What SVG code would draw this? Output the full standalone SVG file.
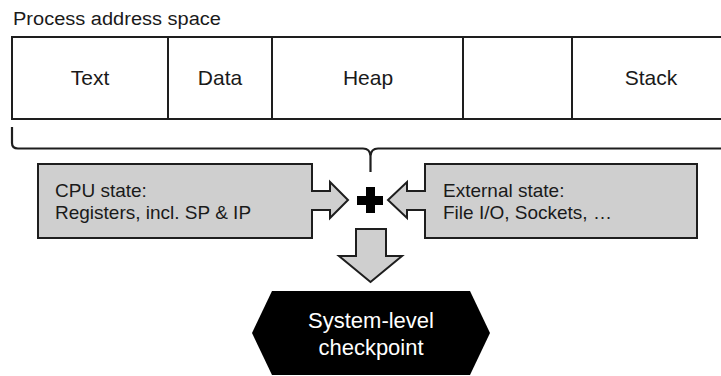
<svg xmlns="http://www.w3.org/2000/svg" width="721" height="376" viewBox="0 0 721 376">
<style>
.seg{fill:#fff;stroke:#1e1e1e;stroke-width:2}
.box{fill:#cfcfcf;stroke:#1e1e1e;stroke-width:2;stroke-linejoin:miter}
.lbl{font-family:"Liberation Sans",Arial,sans-serif;fill:#1a1a1a}
.big{font-size:21px;text-anchor:middle}
.mid{font-size:19px}
.hex{font-family:"Liberation Sans",Arial,sans-serif;font-size:22px;fill:#fff;text-anchor:middle}
.con{fill:none;stroke:#1e1e1e;stroke-width:2.2}
</style>
<rect width="721" height="376" fill="#fff"/>
<g id="title"><text class="lbl" x="13" y="25" font-size="18" textLength="208" lengthAdjust="spacingAndGlyphs">Process address space</text></g>
<g id="address-space">
<rect class="seg" x="12" y="37" width="720" height="82"/>
<line class="seg" x1="168" y1="37" x2="168" y2="119"/>
<line class="seg" x1="272" y1="37" x2="272" y2="119"/>
<line class="seg" x1="463" y1="37" x2="463" y2="119"/>
<line class="seg" x1="572" y1="37" x2="572" y2="119"/>
<text class="lbl big" x="90" y="85">Text</text>
<text class="lbl big" x="220" y="85">Data</text>
<text class="lbl big" x="368" y="85">Heap</text>
<text class="lbl big" x="651" y="85">Stack</text>
</g>
<g id="cpu-state">
<path class="box" d="M38,164 H312 V191 H330 V182 L348,200 L330,218 V210 H312 V238 H38 Z"/>
<text class="lbl mid" x="55" y="197">CPU state:</text>
<text class="lbl mid" x="55" y="219">Registers, incl. SP &amp; IP</text>
</g>
<g id="external-state">
<path class="box" d="M425,164 H697 V238 H425 V210 H407 V218 L388,200 L407,182 V191 H425 Z"/>
<text class="lbl mid" x="443" y="197">External state:</text>
<text class="lbl mid" x="443" y="219">File I/O, Sockets, …</text>
</g>
<g id="plus">
<path d="M366,187 H375 V196 H383 V205 H375 V213 H366 V205 H357 V196 H366 Z" fill="#000"/>
</g>
<g id="checkpoint">
<path d="M272,291 H470 L490,333 L470,375 H272 L252,333 Z" fill="#000"/>
<text class="hex" x="371" y="328">System-level</text>
<text class="hex" x="371" y="355">checkpoint</text>
</g>
<g id="connectors">
<path class="con" d="M12,127 V143 Q12,148.5 18,148.5 H363 Q370,148.5 370.5,156 V172 M370.5,156 Q371,148.5 378,148.5 H725"/>
<path class="box" d="M356,229 H386 V256 H402 L370.5,282 L339,256 H356 Z"/>
</g>
</svg>
